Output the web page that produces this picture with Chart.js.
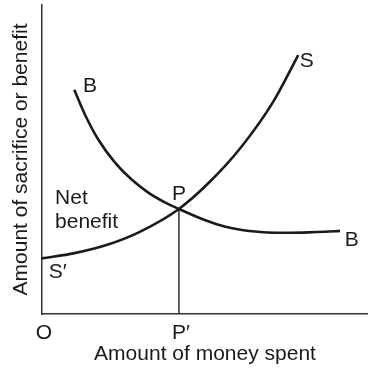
<!DOCTYPE html>
<html><head><meta charset="utf-8">
<script src="https://cdn.jsdelivr.net/npm/chart.js@4/dist/chart.umd.min.js"></script>
<style>html,body{margin:0;padding:0;background:#fff;overflow:hidden;}</style>
</head><body>
<canvas id="c" width="368" height="374"></canvas>
<script>
// Curve S (sacrifice), arbitrary units 0-100
const sacrificeX = [0, 10, 20, 30, 42, 51, 61, 71, 78.6];
const sacrificeY = [18.0, 19.7, 22.4, 26.6, 34.0, 42.3, 53.9, 68.8, 83.8];
// Curve B (benefit)
const benefitX = [9.9, 13.2, 17.3, 22.4, 27.5, 32.6, 37.7, 42, 46, 51, 56, 61.3, 66.3, 71.5, 76.6, 81.7, 86.8, 91.4];
const benefitY = [72.6, 64.5, 56.4, 49.0, 43.5, 39.3, 36.15, 34.0, 32.1, 30.0, 28.3, 27.2, 26.6, 26.3, 26.3, 26.4, 26.6, 26.9];
// Drop line from P to P'
const dropX = [42, 42];
const dropY = [0, 34];
// Axis ticks
const tickValues = [0, 42];
const tickLabels = ['O', 'P\u2032'];
// Curve annotations
const noteTexts = ['S', 'B', 'P', 'Net', 'benefit', 'B', 'S\u2032'];
const noteX = [79.1, 12.6, 39.9, 4.0, 4.0, 92.9, 2.1];
const noteY = [79.9, 71.8, 36.9, 35.6, 27.8, 22.0, 11.7];

const FONT = '"Liberation Sans", Arial, Helvetica, sans-serif';
const INK = '#1a1a1a';
const pts = (xs, ys) => xs.map((x, i) => ({x, y: ys[i]}));

const notesPlugin = {
  id: 'notes',
  afterDatasetsDraw(chart) {
    const {ctx, scales: {x, y}} = chart;
    ctx.save();
    ctx.font = '21px ' + FONT;
    ctx.fillStyle = INK;
    ctx.textAlign = 'left';
    ctx.textBaseline = 'alphabetic';
    noteTexts.forEach((t, i) => {
      ctx.fillText(t, x.getPixelForValue(noteX[i]), y.getPixelForValue(noteY[i]));
    });
    ctx.restore();
  }
};

new Chart(document.getElementById('c'), {
  type: 'line',
  data: {
    datasets: [
      {data: pts(sacrificeX, sacrificeY), borderColor: INK, borderWidth: 2.6, pointRadius: 0, cubicInterpolationMode: 'monotone', fill: false},
      {data: pts(benefitX, benefitY), borderColor: INK, borderWidth: 2.6, pointRadius: 0, cubicInterpolationMode: 'monotone', fill: false},
      {data: pts(dropX, dropY), borderColor: '#222', borderWidth: 1.4, pointRadius: 0, tension: 0, fill: false}
    ]
  },
  options: {
    responsive: false,
    animation: false,
    devicePixelRatio: 1,
    layout: {padding: {top: 5, right: 0, left: 0, bottom: 0}},
    plugins: {legend: {display: false}, tooltip: {enabled: false}},
    scales: {
      x: {
        type: 'linear', min: 0, max: 100,
        grid: {display: false, drawTicks: false, tickLength: 0},
        border: {display: true, color: '#333', width: 1.5},
        afterBuildTicks: s => { s.ticks = tickValues.map(v => ({value: v})); },
        afterFit: s => { s.height = 60; },
        ticks: {autoSkip: false, maxRotation: 0, padding: 7, labelOffset: 2, color: INK,
          font: {family: FONT, size: 21},
          callback: (v, i) => tickLabels[i]},
        title: {display: true, text: 'Amount of money spent', color: INK,
          font: {family: FONT, size: 21}, padding: {top: 0, bottom: 7}}
      },
      y: {
        type: 'linear', min: 0, max: 100,
        grid: {display: false, drawTicks: false, tickLength: 0},
        border: {display: true, color: '#333', width: 1.5},
        ticks: {display: false},
        afterFit: s => { s.width = 42; },
        title: {display: true, text: 'Amount of sacrifice or benefit', color: INK,
          font: {family: FONT, size: 21}, padding: {top: 9, bottom: 0}}
      }
    }
  },
  plugins: [notesPlugin]
});
</script>
</body></html>
